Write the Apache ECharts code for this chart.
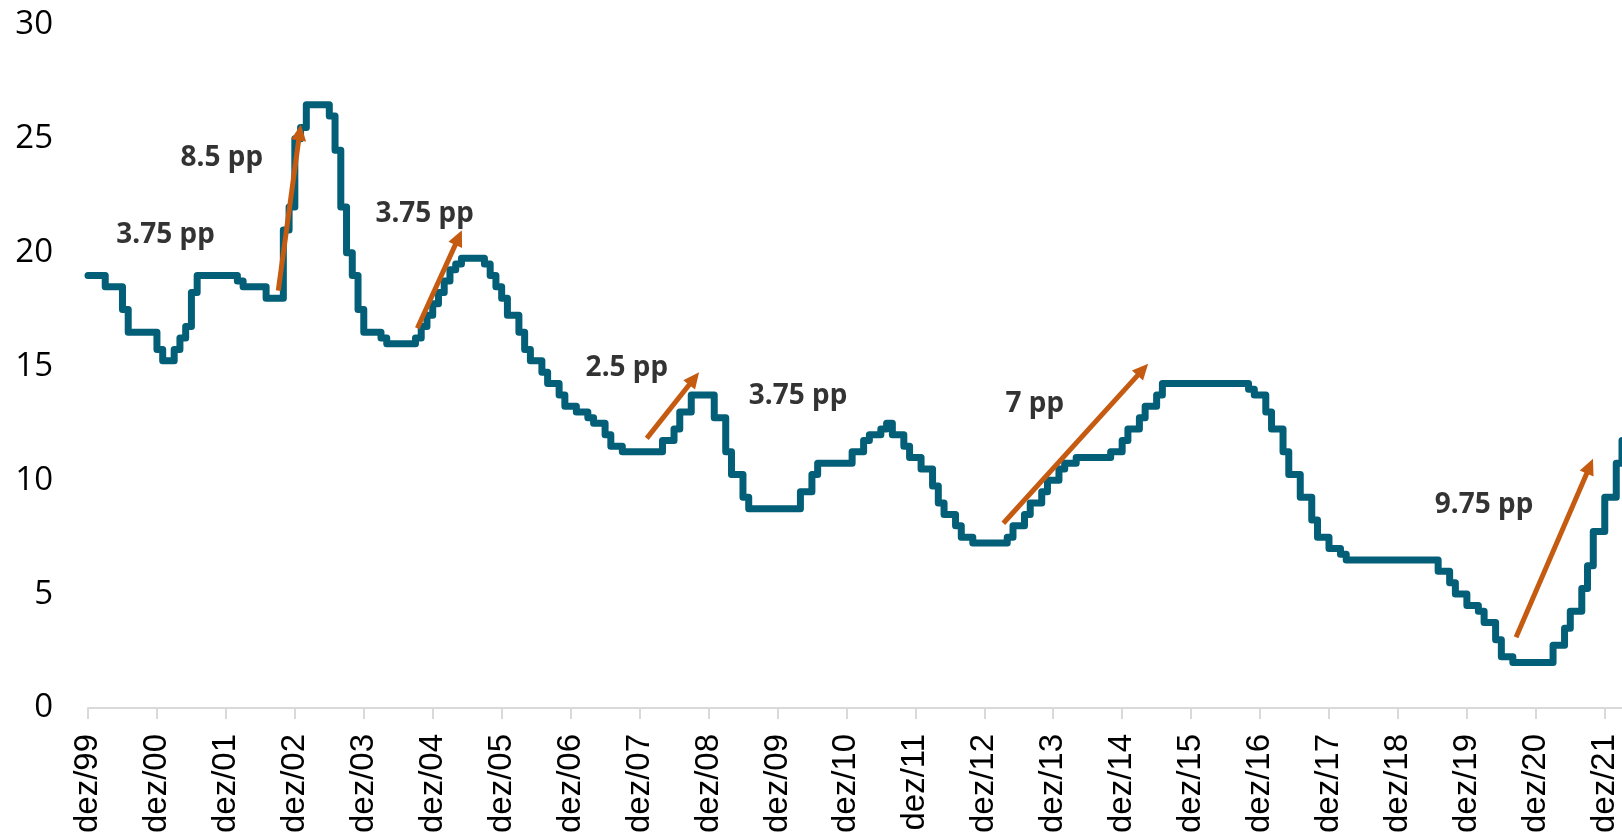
<!DOCTYPE html>
<html>
<head>
<meta charset="utf-8">
<script src="https://cdn.jsdelivr.net/npm/echarts@6/dist/echarts.min.js"></script>
<style>
  html, body { margin: 0; padding: 0; background: #ffffff; overflow: hidden; }
  #chart { width: 1622px; height: 836px; }
</style>
</head>
<body>
<div id="chart"></div>
<script>
// Monthly Selic target (% a.a.), end of month, dez/1999 ... mar/2022
const selic = [
  19.00,
  19.00, 19.00, 18.50, 18.50, 18.50, 17.50, 16.50, 16.50, 16.50, 16.50, 16.50, 15.75,
  15.25, 15.25, 15.75, 16.25, 16.75, 18.25, 19.00, 19.00, 19.00, 19.00, 19.00, 19.00,
  19.00, 18.75, 18.50, 18.50, 18.50, 18.50, 18.00, 18.00, 18.00, 21.00, 22.00, 25.00,
  25.50, 26.50, 26.50, 26.50, 26.50, 26.00, 24.50, 22.00, 20.00, 19.00, 17.50, 16.50,
  16.50, 16.50, 16.25, 16.00, 16.00, 16.00, 16.00, 16.00, 16.25, 16.75, 17.25, 17.75,
  18.25, 18.75, 19.25, 19.50, 19.75, 19.75, 19.75, 19.75, 19.50, 19.00, 18.50, 18.00,
  17.25, 17.25, 16.50, 15.75, 15.25, 15.25, 14.75, 14.25, 14.25, 13.75, 13.25, 13.25,
  13.00, 13.00, 12.75, 12.50, 12.50, 12.00, 11.50, 11.50, 11.25, 11.25, 11.25, 11.25,
  11.25, 11.25, 11.25, 11.75, 11.75, 12.25, 13.00, 13.00, 13.75, 13.75, 13.75, 13.75,
  12.75, 12.75, 11.25, 10.25, 10.25, 9.25, 8.75, 8.75, 8.75, 8.75, 8.75, 8.75,
  8.75, 8.75, 8.75, 9.50, 9.50, 10.25, 10.75, 10.75, 10.75, 10.75, 10.75, 10.75,
  11.25, 11.25, 11.75, 12.00, 12.00, 12.25, 12.50, 12.00, 12.00, 11.50, 11.00, 11.00,
  10.50, 10.50, 9.75, 9.00, 8.50, 8.50, 8.00, 7.50, 7.50, 7.25, 7.25, 7.25,
  7.25, 7.25, 7.25, 7.50, 8.00, 8.00, 8.50, 9.00, 9.00, 9.50, 10.00, 10.00,
  10.50, 10.75, 10.75, 11.00, 11.00, 11.00, 11.00, 11.00, 11.00, 11.25, 11.25, 11.75,
  12.25, 12.25, 12.75, 13.25, 13.25, 13.75, 14.25, 14.25, 14.25, 14.25, 14.25, 14.25,
  14.25, 14.25, 14.25, 14.25, 14.25, 14.25, 14.25, 14.25, 14.25, 14.00, 13.75, 13.75,
  13.00, 12.25, 12.25, 11.25, 10.25, 10.25, 9.25, 9.25, 8.25, 7.50, 7.50, 7.00,
  7.00, 6.75, 6.50, 6.50, 6.50, 6.50, 6.50, 6.50, 6.50, 6.50, 6.50, 6.50,
  6.50, 6.50, 6.50, 6.50, 6.50, 6.50, 6.00, 6.00, 5.50, 5.00, 5.00, 4.50,
  4.50, 4.25, 3.75, 3.75, 3.00, 2.25, 2.25, 2.00, 2.00, 2.00, 2.00, 2.00,
  2.00, 2.00, 2.75, 2.75, 3.50, 4.25, 4.25, 5.25, 6.25, 7.75, 7.75, 9.25,
  9.25, 10.75, 11.75
];

// x-axis tick labels (one per December, every 12 months from index 0)
const tickLabels = [
  'dez/99','dez/00','dez/01','dez/02','dez/03','dez/04','dez/05','dez/06',
  'dez/07','dez/08','dez/09','dez/10','dez/11','dez/12','dez/13','dez/14',
  'dez/15','dez/16','dez/17','dez/18','dez/19','dez/20','dez/21'
];
const tickIndex = tickLabels.map((_, k) => k * 12);

// Annotation texts and anchors (month index, rate)
const noteText = ['3.75 pp', '8.5 pp', '3.75 pp', '2.5 pp', '3.75 pp', '7 pp', '9.75 pp'];
const noteX    = [13.5, 23.3, 58.6, 93.8, 123.6, 164.8, 243.0];
const noteY    = [20.77, 24.16, 21.69, 14.94, 13.72, 13.35, 8.92];

// Arrows (month index, rate): start -> end
const arrowX0 = [33.12, 57.32, 97.25, 159.32, 248.56];
const arrowY0 = [18.33, 16.68, 11.84, 8.11, 3.10];
const arrowX1 = [36.85, 64.50, 105.5, 183.6, 261.4];
const arrowY1 = [25.28, 20.66, 14.47, 14.86, 10.62];

const lineData = selic.map((v, i) => [i, v]);
const noteData = noteText.map((t, i) => ({ value: [noteX[i], noteY[i]], name: t }));
const arrowData = arrowX0.map((x, i) => [
  { coord: [x, arrowY0[i]] },
  { coord: [arrowX1[i], arrowY1[i]] }
]);

const chart = echarts.init(document.getElementById('chart'), null, { renderer: 'canvas' });
chart.setOption({
  animation: false,
  backgroundColor: '#ffffff',
  grid: { left: 88, right: 0, top: 25, bottom: 128, containLabel: false },
  xAxis: {
    type: 'value',
    min: 0,
    max: selic.length - 1,
    interval: 12,
    axisLine: { show: true, lineStyle: { color: '#d9d9d9', width: 2 } },
    axisTick: { show: true, length: 11, customValues: tickIndex, lineStyle: { color: '#d9d9d9', width: 2 } },
    splitLine: { show: false },
    axisLabel: {
      rotate: 90,
      margin: 26,
      fontSize: 33,
      fontFamily: 'Liberation Sans',
      color: '#000000',
      showMinLabel: true,
      showMaxLabel: true,
      hideOverlap: false,
      customValues: tickIndex,
      formatter: v => (v % 12 === 0 ? (tickLabels[v / 12] || '') : '')
    }
  },
  yAxis: {
    type: 'value',
    min: 0,
    max: 30,
    interval: 5,
    axisLine: { show: false },
    axisTick: { show: false },
    splitLine: { show: false },
    axisLabel: {
      margin: 35,
      fontSize: 33,
      fontFamily: 'Open Sans',
      color: '#000000'
    }
  },
  series: [
    {
      type: 'line',
      data: lineData,
      step: 'end',
      symbol: 'none',
      showSymbol: false,
      clip: false,
      z: 2,
      lineStyle: { color: '#035E77', width: 7, join: 'round', cap: 'round' },
      markLine: {
        silent: true,
        animation: false,
        symbol: ['none', 'triangle'],
        symbolSize: [15, 16],
        label: { show: false },
        lineStyle: { color: '#C55A11', width: 5, type: 'solid', opacity: 1 },
        itemStyle: { color: '#C55A11' },
        emphasis: { disabled: true },
        data: arrowData
      }
    },
    {
      type: 'scatter',
      data: noteData,
      symbol: 'circle',
      symbolSize: 2,
      itemStyle: { color: 'rgba(0,0,0,0)' },
      silent: true,
      clip: false,
      z: 5,
      label: {
        show: true,
        position: 'inside',
        formatter: p => p.name,
        fontFamily: 'Noto Sans',
        fontWeight: 'bold',
        fontSize: 28,
        color: '#000000',
        textBorderWidth: 0
      }
    }
  ]
});
</script>
</body>
</html>
